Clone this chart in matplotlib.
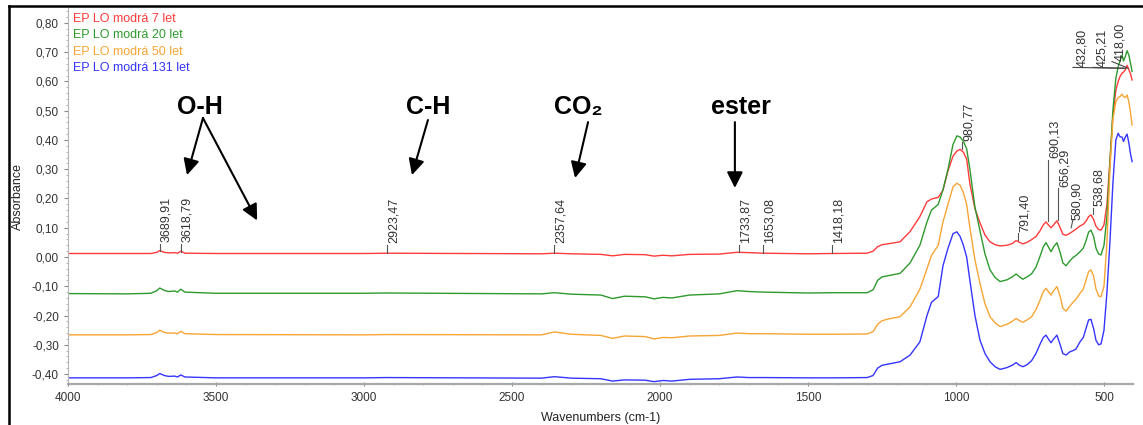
import matplotlib
matplotlib.use("Agg")
import matplotlib.pyplot as plt
from matplotlib.lines import Line2D
from matplotlib.ticker import MultipleLocator, FuncFormatter

plt.rcParams['font.family'] = ['Liberation Sans', 'DejaVu Sans']

# wavenumbers (cm-1) of the read-off points, shared by all four spectra
wn = [4000, 3800, 3720, 3700, 3690, 3675, 3660, 3640, 3630, 3619, 3605, 3500,
      3000, 2923, 2400, 2357, 2300, 2200, 2160, 2120, 2050, 2020, 1990, 1960,
      1900, 1800, 1740, 1700, 1650, 1500, 1418, 1300, 1280, 1265, 1250, 1230,
      1189, 1155, 1122, 1098, 1083, 1060, 1044, 1027, 1010, 997, 986, 975,
      964, 953, 936, 919, 902, 885, 868, 851, 828, 810, 797, 785,
      774, 760, 745, 730, 717, 705, 696, 688, 679, 670, 659, 648,
      639, 628, 617, 605, 595, 581, 570, 561, 552, 544, 535, 527,
      518, 510, 500, 490, 480, 470, 460, 452, 446, 439, 434, 428,
      422, 416, 410, 405]

a_7 = [0.012, 0.012, 0.012, 0.016, 0.022, 0.016, 0.014, 0.015, 0.013, 0.020, 0.013, 0.012,
       0.012, 0.013, 0.011, 0.013, 0.011, 0.009, 0.004, 0.009, 0.008, 0.003, 0.006, 0.004,
       0.009, 0.010, 0.016, 0.015, 0.013, 0.011, 0.012, 0.013, 0.020, 0.035, 0.042, 0.045,
       0.052, 0.087, 0.138, 0.189, 0.198, 0.204, 0.228, 0.295, 0.345, 0.362, 0.368, 0.358,
       0.335, 0.250, 0.165, 0.117, 0.075, 0.052, 0.042, 0.038, 0.040, 0.046, 0.056, 0.050,
       0.045, 0.050, 0.059, 0.070, 0.088, 0.110, 0.120, 0.110, 0.100, 0.110, 0.124, 0.100,
       0.078, 0.074, 0.080, 0.088, 0.095, 0.106, 0.112, 0.122, 0.138, 0.144, 0.128, 0.105,
       0.094, 0.092, 0.110, 0.180, 0.330, 0.480, 0.570, 0.600, 0.617, 0.628, 0.632, 0.640,
       0.655, 0.640, 0.625, 0.605]

a_20 = [-0.125, -0.126, -0.124, -0.115, -0.106, -0.114, -0.118, -0.116, -0.120, -0.110, -0.120, -0.124,
        -0.124, -0.123, -0.126, -0.122, -0.127, -0.130, -0.142, -0.134, -0.136, -0.143, -0.138, -0.140,
        -0.130, -0.126, -0.115, -0.118, -0.120, -0.123, -0.122, -0.122, -0.112, -0.080, -0.068, -0.064,
        -0.056, -0.020, 0.040, 0.120, 0.160, 0.180, 0.230, 0.300, 0.385, 0.414, 0.410, 0.395,
        0.370, 0.300, 0.170, 0.090, 0.010, -0.044, -0.070, -0.084, -0.078, -0.068, -0.058, -0.068,
        -0.076, -0.068, -0.058, -0.035, 0.000, 0.035, 0.049, 0.035, 0.018, 0.035, 0.049, 0.015,
        -0.020, -0.030, -0.015, -0.002, 0.005, 0.018, 0.030, 0.055, 0.085, 0.092, 0.070, 0.030,
        0.010, 0.007, 0.040, 0.140, 0.320, 0.500, 0.610, 0.651, 0.670, 0.690, 0.670, 0.685,
        0.705, 0.690, 0.660, 0.634]

a_50 = [-0.266, -0.266, -0.265, -0.258, -0.250, -0.258, -0.260, -0.260, -0.262, -0.254, -0.262, -0.265,
        -0.266, -0.265, -0.266, -0.256, -0.264, -0.268, -0.278, -0.270, -0.272, -0.280, -0.275, -0.276,
        -0.270, -0.268, -0.260, -0.262, -0.262, -0.264, -0.264, -0.263, -0.255, -0.230, -0.218, -0.212,
        -0.204, -0.170, -0.110, -0.040, 0.005, 0.040, 0.120, 0.180, 0.240, 0.252, 0.245, 0.220,
        0.180, 0.100, -0.010, -0.090, -0.160, -0.204, -0.225, -0.238, -0.230, -0.220, -0.210, -0.218,
        -0.223, -0.215, -0.205, -0.180, -0.150, -0.118, -0.107, -0.118, -0.130, -0.115, -0.101, -0.135,
        -0.175, -0.185, -0.170, -0.155, -0.145, -0.124, -0.110, -0.080, -0.050, -0.044, -0.065, -0.110,
        -0.133, -0.136, -0.100, 0.050, 0.300, 0.470, 0.530, 0.545, 0.548, 0.557, 0.548, 0.545,
        0.554, 0.530, 0.490, 0.451]

a_131 = [-0.413, -0.413, -0.412, -0.405, -0.398, -0.405, -0.408, -0.407, -0.410, -0.403, -0.410, -0.413,
         -0.413, -0.412, -0.414, -0.409, -0.414, -0.416, -0.424, -0.420, -0.421, -0.426, -0.422, -0.424,
         -0.418, -0.416, -0.410, -0.412, -0.412, -0.413, -0.413, -0.412, -0.405, -0.380, -0.370, -0.366,
         -0.358, -0.335, -0.290, -0.200, -0.155, -0.135, -0.030, 0.030, 0.080, 0.086, 0.070, 0.040,
         0.000, -0.080, -0.200, -0.284, -0.330, -0.358, -0.375, -0.384, -0.378, -0.370, -0.361, -0.370,
         -0.375, -0.368, -0.355, -0.330, -0.300, -0.275, -0.267, -0.280, -0.293, -0.280, -0.267, -0.300,
         -0.330, -0.335, -0.325, -0.320, -0.315, -0.290, -0.275, -0.245, -0.215, -0.213, -0.245, -0.285,
         -0.300, -0.297, -0.250, -0.120, 0.050, 0.250, 0.400, 0.423, 0.411, 0.410, 0.395, 0.410,
         0.420, 0.390, 0.350, 0.326]

series_names = ["EP LO modrá 7 let", "EP LO modrá 20 let", "EP LO modrá 50 let", "EP LO modrá 131 let"]
series_values = [a_7, a_20, a_50, a_131]
series_colors = ["#ff3b3b", "#2e9a2e", "#f7a535", "#3535ff"]

# labelled peaks: wavenumber, foot of the marker line, top of the marker line
peak_wn = [3689.91, 3618.79, 2923.47, 2357.64, 1733.87, 1653.08, 1418.18,
           980.77, 791.40, 690.13, 656.29, 538.68]
peak_lo = [0.020, 0.018, 0.014, 0.014, 0.016, 0.014, 0.013,
           0.368, 0.058, 0.123, 0.126, 0.146]
peak_hi = [0.045, 0.045, 0.042, 0.042, 0.042, 0.042, 0.042,
           0.393, 0.082, 0.332, 0.236, 0.168]

fig = plt.figure(figsize=(11.43, 4.25), dpi=100)
ax = fig.add_axes([68 / 1143, 1 - 384 / 425, (1133 - 68) / 1143, (384 - 8) / 425])

for name, vals, col in zip(series_names, series_values, series_colors):
    ax.plot(wn, vals, color=col, lw=1.0)

ax.set_xlim(4000, 402)
ax.set_ylim(-0.434, 0.851)

# peak markers
for p, lo, hi in zip(peak_wn, peak_lo, peak_hi):
    ax.plot([p, p], [lo, hi], color="#555555", lw=0.8)
    ax.annotate(f"{p:.2f}".replace(".", ","), xy=(p, hi), xytext=(0.5, 1),
                textcoords="offset points", rotation=90, ha="left", va="bottom",
                fontsize=9, color="#333333")

# 580,90 with slanted leader
ax.plot([611, 605], [0.100, 0.127], color="#555555", lw=0.8)
ax.text(591, 0.128, "580,90", rotation=90, ha="center", va="bottom", fontsize=9, color="#333333")

# crowded labels at the right edge with leaders
top_labels = [(432.80, 574, 605, 0.650), (425.21, 506, 537, 0.650), (418.00, 446, 473, 0.670)]
for p, tx, lx, ty in top_labels:
    ax.plot([lx, p], [ty - 0.002, 0.645], color="#444444", lw=0.8)
    ax.text(tx, ty, f"{p:.2f}".replace(".", ","), rotation=90, ha="center", va="bottom",
            fontsize=9, color="#333333")

# legend as coloured text
for i, (name, col) in enumerate(zip(series_names, series_colors)):
    ax.text(0.0045, 0.971 - i * 0.0439, name, transform=ax.transAxes, color=col,
            fontsize=9, ha="left", va="center")

# band assignments
bold = dict(fontsize=18, fontweight="bold", ha="center", va="center", color="black")
arrow = dict(arrowstyle="-|>", color="black", lw=1.5, mutation_scale=24, shrinkA=0, shrinkB=0)
ax.text(3554, 0.513, "O-H", **bold)
ax.annotate("", xy=(3598, 0.28), xytext=(3544, 0.475), arrowprops=arrow)
ax.annotate("", xy=(3361, 0.125), xytext=(3544, 0.475), arrowprops=arrow)
ax.text(2784, 0.513, "C-H", **bold)
ax.annotate("", xy=(2838, 0.28), xytext=(2784, 0.468), arrowprops=arrow)
ax.text(2277, 0.513, "CO₂", **bold)
ax.annotate("", xy=(2287, 0.27), xytext=(2243, 0.461), arrowprops=arrow)
ax.text(1726, 0.513, "ester", **bold)
ax.annotate("", xy=(1747, 0.236), xytext=(1747, 0.461), arrowprops=arrow)

# axes styling
for s in ["top", "right"]:
    ax.spines[s].set_visible(False)
ax.spines["left"].set_color("#b5b5b5")
ax.spines["left"].set_linestyle((0, (1, 1)))
ax.spines["bottom"].set_color("#a8a8a8")
ax.spines["bottom"].set_linewidth(1.6)

ax.xaxis.set_major_locator(MultipleLocator(500))
ax.xaxis.set_minor_locator(MultipleLocator(100))
ax.yaxis.set_major_locator(MultipleLocator(0.1))
ax.yaxis.set_minor_locator(MultipleLocator(0.02))
ax.yaxis.set_major_formatter(FuncFormatter(lambda v, _: f"{v:.2f}".replace(".", ",").replace("-0,00", "0,00")))
ax.tick_params(axis="both", which="major", labelsize=8.5, labelcolor="#333333", color="#888888",
               length=3, width=0.8)
ax.tick_params(axis="both", which="minor", color="#aaaaaa", length=1.5, width=0.6)
ax.tick_params(axis="x", which="both", direction="inout")
ax.tick_params(axis="x", pad=4)

ax.set_xlabel("Wavenumbers (cm-1)", fontsize=9, color="#222222", labelpad=6)
ax.set_ylabel("Absorbance", fontsize=9, color="#222222", labelpad=6)

# outer frame of the screenshot
fig.add_artist(Line2D([8.5 / 1143, 8.5 / 1143], [0, 1 - 6 / 425], color="black", lw=1.8))
fig.add_artist(Line2D([8.5 / 1143, 1], [1 - 6 / 425, 1 - 6 / 425], color="black", lw=1.8))

fig.savefig("out.png", dpi=100)
